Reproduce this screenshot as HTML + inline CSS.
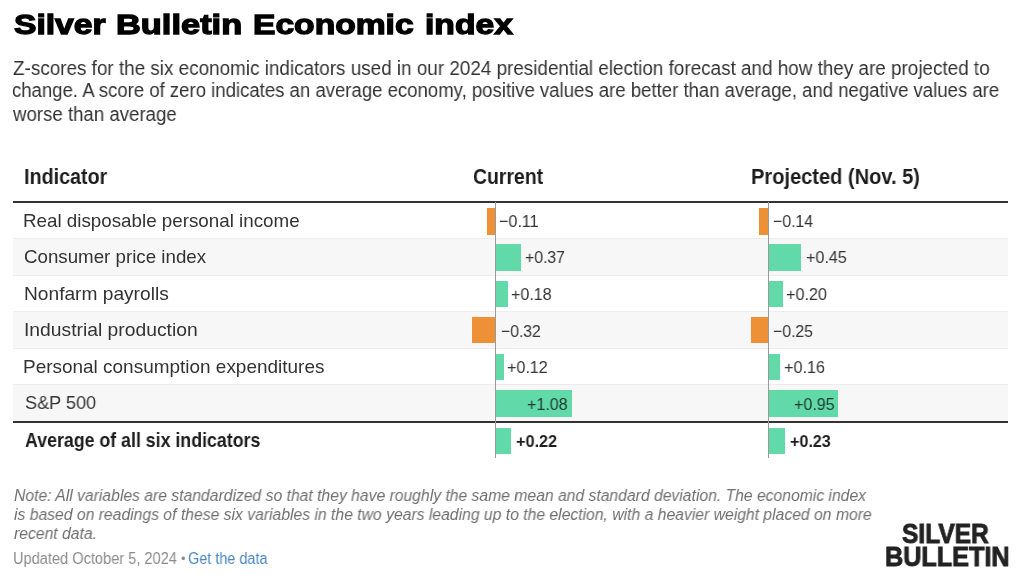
<!DOCTYPE html>
<html><head><meta charset="utf-8"><title>Silver Bulletin Economic index</title>
<style>
html,body{margin:0;padding:0;background:#fff;}
body{width:1024px;height:584px;position:relative;overflow:hidden;font-family:"Liberation Sans",sans-serif;}
.t{position:absolute;white-space:nowrap;line-height:1;transform-origin:0 0;will-change:transform;}
.title{font-weight:bold;color:#000;-webkit-text-stroke:1.3px #000;}
.sub{color:#333;}
.hdr{font-weight:bold;color:#1d1d1d;}
.lbl{color:#333;}
.lbl.b{font-weight:bold;color:#1d1d1d;}
.val{color:#333;}
.val.b{font-weight:bold;color:#1d1d1d;}
.val.inb{color:#1b3b2e;}
.note{font-style:italic;color:#6f6f6f;}
.upd{color:#8a8a8a;}
.lnk{color:#4a86c5;}
.bar{position:absolute;}
.pos{background:#62d9a8;}
.neg{background:#ee9035;}
.rowbg{position:absolute;left:13px;width:995px;background:#f7f7f7;}
.rline{position:absolute;left:13px;width:995px;height:1px;background:#ededed;}
.hline{position:absolute;left:13px;width:995px;height:2px;background:#333;}
.zline{position:absolute;width:1px;background:#9a9a9a;}
.logo{font-weight:bold;color:#222;-webkit-text-stroke:0.9px #222;}
</style></head><body>
<div id="title1" class="t title" style="left:14.02px;top:9.87px;font-size:28.5px;transform:scaleX(1.1802);">Silver</div>
<div id="title2" class="t title" style="left:116.10px;top:9.87px;font-size:28.5px;transform:scaleX(1.2075);">Bulletin</div>
<div id="title3" class="t title" style="left:253.37px;top:9.87px;font-size:28.5px;transform:scaleX(1.1792);">Economic</div>
<div id="title4" class="t title" style="left:424.93px;top:9.87px;font-size:28.5px;transform:scaleX(1.1799);">index</div>
<div id="sub1" class="t sub" style="left:12.66px;top:57.77px;font-size:20px;transform:scaleX(0.9436);">Z-scores for the six economic indicators used in our 2024 presidential election forecast and how they are projected to</div>
<div id="sub2" class="t sub" style="left:12.48px;top:80.47px;font-size:20px;transform:scaleX(0.9281);">change. A score of zero indicates an average economy, positive values are better than average, and negative values are</div>
<div id="sub3" class="t sub" style="left:13.40px;top:103.97px;font-size:20px;transform:scaleX(0.9318);">worse than average</div>
<div class="rowbg" style="top:238.5px;height:36.5px"></div>
<div class="rowbg" style="top:311.3px;height:36.5px"></div>
<div class="rowbg" style="top:384.5px;height:36.5px"></div>
<div class="rline" style="top:238px"></div>
<div class="rline" style="top:274.6px"></div>
<div class="rline" style="top:311px"></div>
<div class="rline" style="top:347.6px"></div>
<div class="rline" style="top:384px"></div>
<div id="h_ind" class="t hdr" style="left:24.29px;top:165.81px;font-size:22.2px;transform:scaleX(0.8891);">Indicator</div>
<div id="h_cur" class="t hdr" style="left:472.77px;top:165.81px;font-size:22.2px;transform:scaleX(0.8751);">Current</div>
<div id="h_proj" class="t hdr" style="left:750.93px;top:165.81px;font-size:22.2px;transform:scaleX(0.9035);">Projected (Nov. 5)</div>
<div class="hline" style="top:200.5px"></div>
<div class="hline" style="top:420.5px"></div>
<div id="lbl1" class="t lbl" style="left:23.47px;top:211.86px;font-size:18.6px;transform:scaleX(1.0099);">Real disposable personal income</div>
<div id="lbl2" class="t lbl" style="left:24.21px;top:248.16px;font-size:18.6px;transform:scaleX(1.0067);">Consumer price index</div>
<div id="lbl3" class="t lbl" style="left:24.21px;top:284.76px;font-size:18.6px;transform:scaleX(1.0298);">Nonfarm payrolls</div>
<div id="lbl4" class="t lbl" style="left:23.85px;top:321.06px;font-size:18.6px;transform:scaleX(1.0372);">Industrial production</div>
<div id="lbl5" class="t lbl" style="left:23.36px;top:357.66px;font-size:18.6px;transform:scaleX(1.0196);">Personal consumption expenditures</div>
<div id="lbl6" class="t lbl" style="left:24.58px;top:394.16px;font-size:18.6px;transform:scaleX(0.9730);">S&amp;P 500</div>
<div id="lbl7" class="t lbl b" style="left:25.01px;top:430.96px;font-size:19.3px;transform:scaleX(0.9212);">Average of all six indicators</div>
<div class="bar neg" style="left:486.80px;top:208.0px;width:8.20px;height:26.5px"></div>
<div id="v00" class="t val" style="left:499.29px;top:212.81px;font-size:17px;transform:scaleX(0.9484);">−0.11</div>
<div class="bar pos" style="left:496px;top:244.0px;width:25.20px;height:26.5px"></div>
<div id="v01" class="t val" style="left:524.61px;top:249.11px;font-size:17px;transform:scaleX(0.9282);">+0.37</div>
<div class="bar pos" style="left:496px;top:280.5px;width:12.00px;height:26.5px"></div>
<div id="v02" class="t val" style="left:511.43px;top:285.91px;font-size:17px;transform:scaleX(0.9453);">+0.18</div>
<div class="bar neg" style="left:472.30px;top:316.8px;width:22.70px;height:26.5px"></div>
<div id="v03" class="t val" style="left:500.52px;top:322.61px;font-size:17px;transform:scaleX(0.9239);">−0.32</div>
<div class="bar pos" style="left:496px;top:353.5px;width:7.80px;height:26.5px"></div>
<div id="v04" class="t val" style="left:507.45px;top:359.11px;font-size:17px;transform:scaleX(0.9469);">+0.12</div>
<div class="bar pos" style="left:496px;top:390.0px;width:76.30px;height:26.5px"></div>
<div id="v05" class="t val inb" style="left:527.44px;top:395.61px;font-size:17px;transform:scaleX(0.9448);">+1.08</div>
<div class="bar pos" style="left:496px;top:427.8px;width:14.70px;height:26.5px"></div>
<div id="v06" class="t val b" style="left:515.89px;top:432.81px;font-size:17px;transform:scaleX(0.9567);">+0.22</div>
<div class="bar neg" style="left:758.80px;top:208.0px;width:9.20px;height:26.5px"></div>
<div id="v10" class="t val" style="left:773.32px;top:212.81px;font-size:17px;transform:scaleX(0.9331);">−0.14</div>
<div class="bar pos" style="left:769px;top:244.0px;width:32.30px;height:26.5px"></div>
<div id="v11" class="t val" style="left:805.57px;top:249.11px;font-size:17px;transform:scaleX(0.9487);">+0.45</div>
<div class="bar pos" style="left:769px;top:280.5px;width:14.00px;height:26.5px"></div>
<div id="v12" class="t val" style="left:786.41px;top:285.91px;font-size:17px;transform:scaleX(0.9540);">+0.20</div>
<div class="bar neg" style="left:751.40px;top:316.8px;width:16.60px;height:26.5px"></div>
<div id="v13" class="t val" style="left:773.48px;top:322.61px;font-size:17px;transform:scaleX(0.9298);">−0.25</div>
<div class="bar pos" style="left:769px;top:353.5px;width:10.70px;height:26.5px"></div>
<div id="v14" class="t val" style="left:784.41px;top:359.11px;font-size:17px;transform:scaleX(0.9541);">+0.16</div>
<div class="bar pos" style="left:769px;top:390.0px;width:68.50px;height:26.5px"></div>
<div id="v15" class="t val inb" style="left:793.52px;top:395.61px;font-size:17px;transform:scaleX(0.9458);">+0.95</div>
<div class="bar pos" style="left:769px;top:427.8px;width:16.40px;height:26.5px"></div>
<div id="v16" class="t val b" style="left:789.90px;top:432.81px;font-size:17px;transform:scaleX(0.9481);">+0.23</div>
<div class="zline" style="left:495px;top:202px;height:256px"></div>
<div class="zline" style="left:768px;top:202px;height:256px"></div>
<div id="note1" class="t note" style="left:13.80px;top:487.66px;font-size:16px;transform:scaleX(0.9812);">Note: All variables are standardized so that they have roughly the same mean and standard deviation. The economic index</div>
<div id="note2" class="t note" style="left:13.96px;top:506.76px;font-size:16px;transform:scaleX(0.9820);">is based on readings of these six variables in the two years leading up to the election, with a heavier weight placed on more</div>
<div id="note3" class="t note" style="left:13.89px;top:525.76px;font-size:16px;transform:scaleX(0.9812);">recent data.</div>
<div id="upd" class="t upd" style="left:12.74px;top:550.76px;font-size:16px;transform:scaleX(0.9120);">Updated October 5, 2024</div>
<div id="bul" class="t upd" style="left:181.00px;top:552.30px;font-size:13px;">&bull;</div>
<div id="lnk" class="t lnk" style="left:188.45px;top:550.76px;font-size:16px;transform:scaleX(0.9022);">Get the data</div>
<div id="logo1" class="t logo" style="left:902.38px;top:520.74px;font-size:27px;transform:scaleX(0.9091);">SILVER</div>
<div id="logo2" class="t logo" style="left:884.76px;top:544.24px;font-size:27px;transform:scaleX(0.9332);">BULLETIN</div>
</body></html>
